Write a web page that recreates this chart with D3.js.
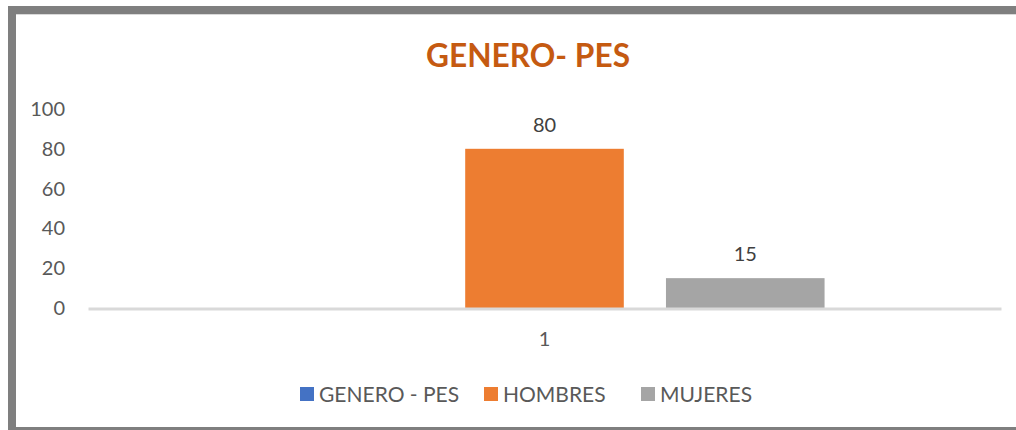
<!DOCTYPE html>
<html>
<head>
<meta charset="utf-8">
<script src="https://cdn.jsdelivr.net/npm/d3@7"></script>
<style>
  body { margin: 0; background: #fff; }
  svg { display: block; font-family: Lato, "Open Sans", sans-serif; }
</style>
</head>
<body>
<svg id="chart" width="1016" height="430"></svg>
<script>
// data
const categories = ['1'];
const series = ['GENERO - PES', 'HOMBRES', 'MUJERES'];
const values = [null, 80, 15];          // GENERO - PES has no bar
const yTicks = [0, 20, 40, 60, 80, 100];
const colors = ['#4472C4', '#ED7D31', '#A5A5A5'];

const svg = d3.select('#chart');
const W = 1016, H = 430;
const plotLeft = 88, plotRight = 1001, plotTop = 109, plotBottom = 308;

// outer frame (right side is cut off in the picture)
svg.append('rect')
  .attr('x', 12).attr('y', 10)
  .attr('width', W + 20).attr('height', 421)
  .attr('fill', 'none')
  .attr('stroke', '#7f7f7f')
  .attr('stroke-width', 8);
svg.append('line')
  .attr('x1', 16).attr('x2', W).attr('y1', 14.5).attr('y2', 14.5)
  .attr('stroke', '#d9d9d9').attr('stroke-width', 1);

// title
svg.append('text')
  .attr('x', 528).attr('y', 67)
  .attr('text-anchor', 'middle')
  .attr('fill', '#C55A11')
  .attr('font-weight', 'bold')
  .attr('font-size', 33)
  .attr('textLength', 204)
  .attr('lengthAdjust', 'spacingAndGlyphs')
  .text('GENERO- PES');

const x0 = d3.scaleBand().domain(categories).range([plotLeft, plotRight])
  .paddingInner(0).paddingOuter(0.315);
const x1 = d3.scaleBand().domain(series).range([0, x0.bandwidth()])
  .paddingInner(0.21).paddingOuter(0);
const y = d3.scaleLinear().domain([0, 100]).range([plotBottom, plotTop]);

// y axis (labels only)
const gy = svg.append('g')
  .attr('transform', `translate(${plotLeft},0)`)
  .call(d3.axisLeft(y).tickValues(yTicks).tickSize(0).tickPadding(23));
gy.select('.domain').remove();
gy.selectAll('text')
  .attr('font-family', 'Lato, "Open Sans", sans-serif')
  .attr('font-size', 20)
  .attr('fill', '#595959');

// bars
const g = svg.append('g');
const rows = series.map((s, i) => ({ s, v: values[i], c: colors[i] }));
g.selectAll('.bar')
  .data(rows.filter(d => d.v != null))
  .enter().append('rect')
  .attr('class', 'bar')
  .attr('x', d => x0('1') + x1(d.s))
  .attr('y', d => y(d.v))
  .attr('width', x1.bandwidth())
  .attr('height', d => y(0) - y(d.v))
  .attr('fill', d => d.c);

g.selectAll('.lbl')
  .data(rows.filter(d => d.v != null))
  .enter().append('text')
  .attr('class', 'lbl')
  .attr('x', d => x0('1') + x1(d.s) + x1.bandwidth() / 2)
  .attr('y', d => y(d.v) - 17)
  .attr('text-anchor', 'middle')
  .attr('font-size', 20)
  .attr('fill', '#404040')
  .text(d => d.v);

// x axis
const gx = svg.append('g')
  .attr('transform', `translate(0,${plotBottom + 0.5})`)
  .call(d3.axisBottom(x0).tickSize(0).tickPadding(23));
gx.select('.domain')
  .attr('stroke', '#d9d9d9')
  .attr('stroke-width', 3);
gx.selectAll('text')
  .attr('font-family', 'Lato, "Open Sans", sans-serif')
  .attr('font-size', 20)
  .attr('fill', '#595959');

// legend
const legendX = [300, 484, 641];
const lg = svg.append('g').attr('transform', 'translate(0,387)');
series.forEach((s, i) => {
  const item = lg.append('g').attr('transform', `translate(${legendX[i]},0)`);
  item.append('rect').attr('width', 14).attr('height', 14).attr('fill', colors[i]);
  item.append('text')
    .attr('x', 19).attr('y', 15)
    .attr('font-size', 21)
    .attr('fill', '#595959')
    .text(s);
});
</script>
</body>
</html>
